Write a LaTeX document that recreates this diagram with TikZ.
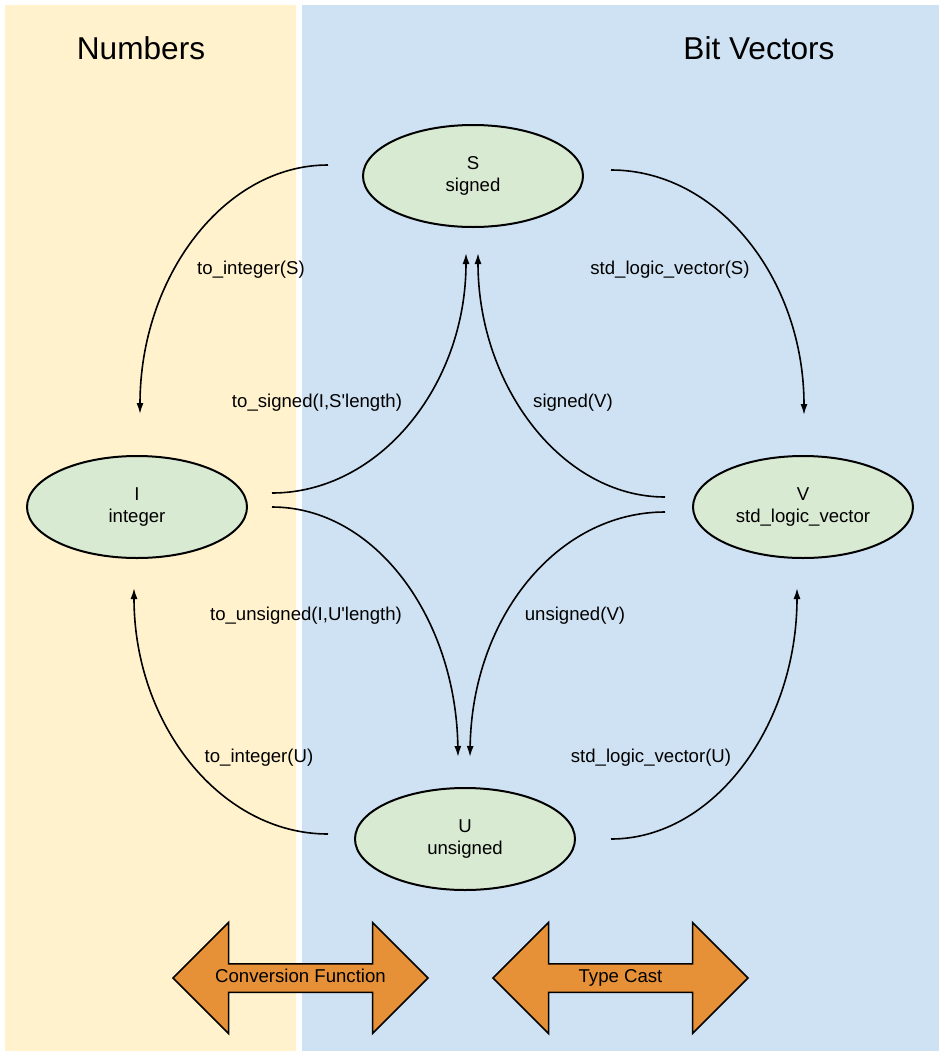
\documentclass[tikz,border=0pt]{standalone}
\usepackage{fontspec}
\newfontfamily\plainfont{Liberation Sans}
\usetikzlibrary{arrows.meta,shapes.arrows,shapes.geometric}
\definecolor{numbg}{HTML}{FFF2CC}
\definecolor{bitbg}{HTML}{CFE2F3}
\definecolor{nodefill}{HTML}{D9EAD3}
\definecolor{arrowfill}{HTML}{E69138}
\begin{document}
\begin{tikzpicture}[x=1pt,y=-1pt,
  every node/.append style={font=\plainfont},
  typenode/.style={ellipse,draw=black,line width=2pt,fill=nodefill,minimum width=220pt,minimum height=102pt,inner sep=0pt,align=center,font=\plainfont\fontsize{18.6}{22}\selectfont},
  conv/.style={line width=1.6pt,-{Latex[length=11pt,width=7pt]}},
  lbl/.style={font=\plainfont\fontsize{18.6}{22}\selectfont,inner sep=0pt,text height=13.5pt,text depth=4pt},
  title/.style={font=\plainfont\fontsize{31.6}{36}\selectfont,inner sep=0pt},
  bigarrow/.style={double arrow,draw=black,line width=1.5pt,fill=arrowfill,minimum width=111pt,minimum height=255pt,double arrow head extend=27.5pt,inner sep=0pt,text height=13.5pt,text depth=4pt,font=\plainfont\fontsize{18.6}{22}\selectfont}]
\useasboundingbox (0,0) rectangle (944,1058);
\fill[white] (0,0) rectangle (944,1058);
\fill[numbg] (5,5) rectangle (296,1051);
\fill[bitbg] (302,5) rectangle (939,1051);
\node[title] (tnum) at (141,48) {Numbers};
\node[title] (tbit) at (759,48) {Bit Vectors};
\node[typenode] (S) at (473,176) {\raisebox{-3pt}{S}\\\raisebox{-3pt}{signed}};
\node[typenode] (I) at (137,507) {\raisebox{-3pt}{I}\\\raisebox{-3pt}{integer}};
\node[typenode] (V) at (803,507) {\raisebox{-3pt}{V}\\\raisebox{-3pt}{std\_logic\_vector}};
\node[typenode] (U) at (465,839) {\raisebox{-3pt}{U}\\\raisebox{-3pt}{unsigned}};
% connector ends
\coordinate (si0) at (328,165); \coordinate (si1) at (140,414);
\coordinate (is0) at (272,493); \coordinate (is1) at (466,253);
\coordinate (vs0) at (665,497); \coordinate (vs1) at (478,253);
\coordinate (sv0) at (611,170); \coordinate (sv1) at (804,415);
\coordinate (iu0) at (272,507); \coordinate (iu1) at (458,757);
\coordinate (vu0) at (665,512); \coordinate (vu1) at (470,757);
\coordinate (ui0) at (328,834); \coordinate (ui1) at (134,588);
\coordinate (uv0) at (611,839); \coordinate (uv1) at (797,588);
\draw[conv] (si0) .. controls (224,165) and (140,277) .. (si1);
\draw[conv] (is0) .. controls (379,493) and (466,386) .. (is1);
\draw[conv] (vs0) .. controls (562,497) and (478,386) .. (vs1);
\draw[conv] (sv0) .. controls (718,170) and (804,279) .. (sv1);
\draw[conv] (iu0) .. controls (375,507) and (456,618) .. (iu1);
\draw[conv] (vu0) .. controls (557,512) and (472,618) .. (vu1);
\draw[conv] (ui0) .. controls (221,834) and (134,725) .. (ui1);
\draw[conv] (uv0) .. controls (714,839) and (797,725) .. (uv1);
\node[lbl] (l1) at (251,270) {to\_integer(S)};
\node[lbl] (l2) at (670,270) {std\_logic\_vector(S)};
\node[lbl] (l3) at (317,403) {to\_signed(I,S'length)};
\node[lbl] (l4) at (573,403) {signed(V)};
\node[lbl] (l5) at (306,616) {to\_unsigned(I,U'length)};
\node[lbl] (l6) at (575,616) {unsigned(V)};
\node[lbl] (l7) at (259,758) {to\_integer(U)};
\node[lbl] (l8) at (651,758) {std\_logic\_vector(U)};
\node[bigarrow] (cf) at (300.5,978) {Conversion Function};
\node[bigarrow] (tc) at (620.5,978) {Type Cast};
\end{tikzpicture}
\end{document}
